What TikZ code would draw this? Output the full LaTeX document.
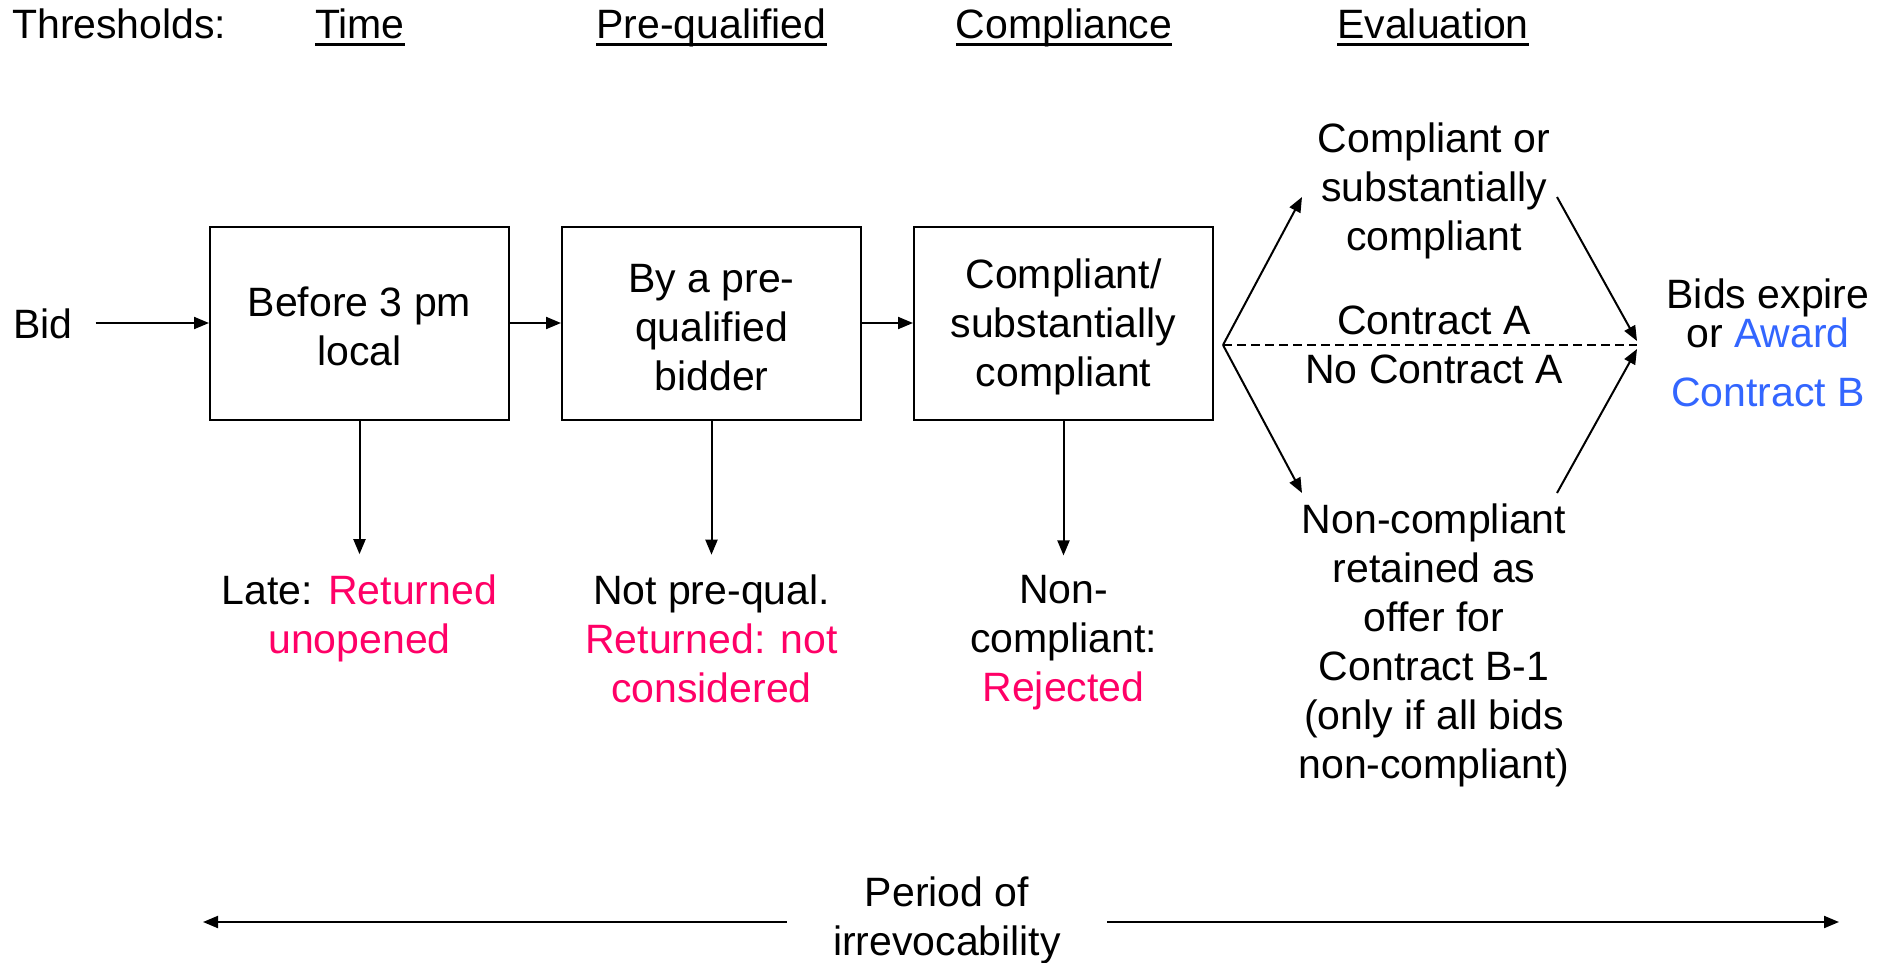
\documentclass[tikz,border=0pt]{standalone}
\usepackage{fontspec}
\setmainfont{Liberation Sans}
\usetikzlibrary{arrows.meta}
\definecolor{cpink}{HTML}{FF0066}
\definecolor{cblue}{HTML}{3366FF}
\newcommand\myul[1]{\setbox0\hbox{#1}\rlap{\rule[-7.7pt]{\wd0}{3.4pt}}#1}
\newcommand\mystrut{\rule[-8.5pt]{0pt}{46pt}}
\newcommand\bt{\rule{0pt}{37pt}}
\begin{document}
\begin{tikzpicture}[x=1pt,y=-1pt,
  txt/.style={font=\fontsize{41}{49}\selectfont, align=center, inner sep=0pt,
    execute at begin node=\mystrut, execute at end node=\mystrut},
  stepbox/.style={font=\fontsize{41}{49}\selectfont, align=center, inner sep=0pt,
    draw, line width=2pt, minimum width=299pt, minimum height=193pt},
  arr/.style={line width=2pt, -{Triangle[length=15pt,width=12pt]}},
  dashline/.style={line width=2pt, dash pattern=on 9pt off 5pt}]
\useasboundingbox (0,0) rectangle (1891,962);
% headers
\node[txt, anchor=west] (thr) at (12,24) {Thresholds:};
\node[txt] (hTime) at (360,24) {\myul{Time}};
\node[txt] (hPre) at (711.5,24) {\myul{Pre-qualified}};
\node[txt] (hComp) at (1064,24) {\myul{Compliance}};
\node[txt] (hEval) at (1433,24) {\myul{Evaluation}};
% boxes
\node[stepbox] (b1) at (359.5,323) {\bt Before 3 pm\\local};
\node[stepbox] (b2) at (711.5,323) {\bt By a pre-\\qualified\\bidder};
\node[stepbox] (b3) at (1063.5,323) {\bt Compliant/\\substantially\\compliant};
\node[txt, anchor=west] (bid) at (13,324) {Bid};
\draw[arr] ([xshift=23pt]b1.west -| bid.east) -- (b1.west);
\draw[arr] (b1.east) -- (b2.west);
\draw[arr] (b2.east) -- (b3.west);
% outcomes below
\node[txt] (late) at (359.5,618) {Late: \textcolor{cpink}{Returned}\\\textcolor{cpink}{unopened}};
\node[txt] (npq) at (711.5,643) {Not pre-qual.\\\textcolor{cpink}{Returned: not}\\\textcolor{cpink}{considered}};
\node[txt] (nc) at (1063.5,643) {Non-\\compliant:\\\textcolor{cpink}{Rejected}};
\draw[arr, shorten >=20pt] (b1.south) -- (late.north);
\draw[arr, shorten >=20pt] (b2.south) -- (npq.north);
\draw[arr, shorten >=20pt] (b3.south) -- (nc.north);
% evaluation
\node[txt] (cmp) at (1434,191) {Compliant or\\substantially\\compliant};
\node[txt] (ca) at (1434,320) {Contract A};
\node[txt] (nca) at (1434,369) {No Contract A};
\node[txt] (ncr) at (1434,645.5) {Non-compliant\\retained as\\offer for\\Contract B-1\\(only if all bids\\non-compliant)};
\node[txt] (exp) at (1768,347) {Bids expire\\[-10pt]or \textcolor{cblue}{Award}\\[10pt]\textcolor{cblue}{Contract B}};
\coordinate (br) at (1223,345);
\coordinate (ut) at (1302,197);
\coordinate (lt) at (1302,493);
\coordinate (us) at (1557,197);
\coordinate (ls) at (1557,493);
\coordinate (ue) at (1637,341);
\coordinate (le) at (1637,349);
\coordinate (de) at (1637,345);
\draw[arr] (br) -- (ut);
\draw[arr] (br) -- (lt);
\draw[dashline] (br) -- (de);
\draw[arr] (us) -- (ue);
\draw[arr] (ls) -- (le);
% period of irrevocability
\node[txt, inner xsep=46pt] (per) at (947,920) {Period of\\irrevocability};
\coordinate (pl) at (203,922);
\coordinate (pr) at (1839,922);
\draw[arr] (per.west |- pl) -- (pl);
\draw[arr] (per.east |- pr) -- (pr);
\end{tikzpicture}
\end{document}
